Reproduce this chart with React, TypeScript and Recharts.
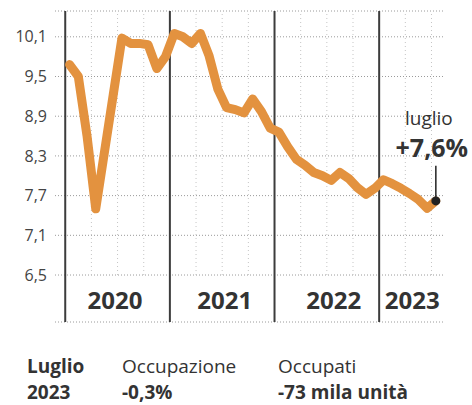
import React from 'react';
import { LineChart, Line, XAxis, YAxis, CartesianGrid, ReferenceLine, ReferenceDot } from 'recharts';

// Monthly unemployment rate, Jan 2020 – Jul 2023
const monthIndex = Array.from({ length: 43 }, (_, i) => i);
const rate = [
  9.68, 9.5, 8.6, 7.5, 8.36, 9.22, 10.08, 10.0, 10.0, 9.98, 9.62, 9.8,
  10.15, 10.1, 10.0, 10.15, 9.81, 9.31, 9.03, 9.0, 8.95, 9.16, 8.97, 8.72,
  8.66, 8.44, 8.25, 8.16, 8.05, 8.0, 7.93, 8.05, 7.96, 7.82, 7.72, 7.81,
  7.94, 7.88, 7.81, 7.73, 7.64, 7.51, 7.62,
];
const yTicks = [6.5, 7.1, 7.7, 8.3, 8.9, 9.5, 10.1];
const years = ['2020', '2021', '2022', '2023'];
const yearLabelAt = [5.2, 17.8, 30.3, 39.3];
const yearBoundaries = [-0.5, 11.5, 23.5, 35.5];
const quarterLines = [2.5, 5.5, 8.5, 14.5, 17.5, 20.5, 26.5, 29.5, 32.5, 38.5, 41.5];
const lastIndex = 42;
const lastValue = 7.62;
const annotMonth = 'luglio';
const annotValue = '+7,6%';

const data = monthIndex.map((i) => ({ i, v: rate[i] }));

const FONT = "'Open Sans', sans-serif";
const TEXT = '#333';
const Y_MIN = 5.79;
const Y_MAX = 10.49;

export default function App() {
  return (
    <div style={{ position: 'absolute', left: 0, top: 0, width: 472, height: 405, background: '#fff' }}>
      <LineChart width={472} height={405} data={data} margin={{ top: 11, right: 27, bottom: 83, left: 0 }}>
        <CartesianGrid vertical={false} stroke="#9a9a9a" strokeDasharray="1 2" />
        <XAxis type="number" dataKey="i" domain={[-1.674, 43.05]} hide height={0} allowDataOverflow />
        <YAxis
          type="number"
          domain={[Y_MIN, Y_MAX]}
          ticks={yTicks}
          interval={0}
          width={55}
          axisLine={false}
          tickLine={false}
          tickSize={0}
          tickMargin={8}
          allowDataOverflow
          tick={{ fill: '#444', fontSize: 16, fontFamily: FONT }}
          tickFormatter={(v: number) => v.toFixed(1).replace('.', ',')}
        />
        {quarterLines.map((q) => (
          <ReferenceLine
            key={'q' + q}
            segment={[{ x: q, y: 6.5 }, { x: q, y: Y_MAX }]}
            stroke="#c4c4c4"
            strokeDasharray="1 3"
          />
        ))}
        {yearBoundaries.map((b) => (
          <ReferenceLine key={'b' + b} x={b} stroke="#3c3c3c" strokeWidth={2} />
        ))}
        {years.map((y, k) => (
          <ReferenceDot
            key={y}
            x={yearLabelAt[k]}
            y={5.985}
            r={0}
            shape={(p: any) => (
              <text x={p.cx} y={p.cy} textAnchor="middle" fontFamily={FONT} fontWeight={700} fontSize={24} fill={TEXT}>
                {y}
              </text>
            )}
          />
        ))}
        <Line
          type="linear"
          dataKey="v"
          stroke="#E3923F"
          strokeWidth={9}
          strokeLinejoin="round"
          strokeLinecap="round"
          dot={false}
          activeDot={false}
          isAnimationActive={false}
        />
        <ReferenceLine
          segment={[{ x: lastIndex, y: lastValue }, { x: lastIndex, y: 8.15 }]}
          stroke="#222"
          strokeWidth={1.5}
        />
        <ReferenceDot
          x={lastIndex}
          y={lastValue}
          r={4.5}
          shape={(p: any) => (
            <g>
              <circle cx={p.cx} cy={p.cy} r={4.5} fill="#222" />
              <text x={p.cx - 7} y={p.cy - 76} textAnchor="middle" fontFamily={FONT} fontSize={19} fill={TEXT}>
                {annotMonth}
              </text>
              <text x={p.cx - 4} y={p.cy - 44} textAnchor="middle" fontFamily={FONT} fontWeight={700} fontSize={25} fill={TEXT}>
                {annotValue}
              </text>
            </g>
          )}
        />
      </LineChart>
      <svg width={472} height={405} style={{ position: 'absolute', left: 0, top: 0, pointerEvents: 'none' }}>
        <g fontFamily={FONT} fontSize={19} fill={TEXT}>
          <text x={27} y={373} fontWeight={700}>Luglio</text>
          <text x={27} y={399} fontWeight={700}>2023</text>
          <text x={122} y={373}>Occupazione</text>
          <text x={122} y={399} fontWeight={700}>-0,3%</text>
          <text x={278} y={373}>Occupati</text>
          <text x={278} y={399} fontWeight={700}>-73 mila unità</text>
        </g>
      </svg>
    </div>
  );
}
